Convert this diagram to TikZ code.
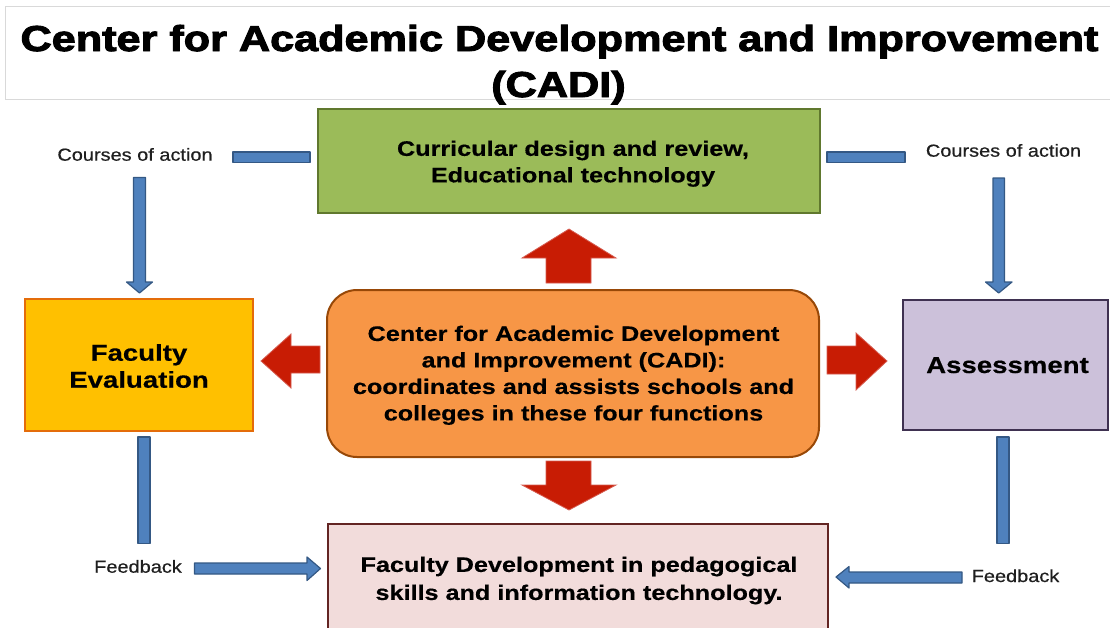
\documentclass[tikz,border=0pt]{standalone}
\usepackage{fontspec}
\setmainfont{Liberation Sans}
\newfontfamily\heavyfont{Liberation Sans}[BoldFeatures={FakeBold=2.5}]
\newfontfamily\boxfont{Liberation Sans}[BoldFeatures={FakeBold=0.4}]
\newfontfamily\labelfont{Liberation Sans}[FakeBold=0.5]
\usepackage{graphicx}
\newcommand{\sxw}[1]{\scalebox{1.2}[1]{#1}}
\newcommand{\sxl}[1]{\scalebox{1.14}[1]{#1}}
\definecolor{grfill}{RGB}{155,187,89}
\definecolor{grline}{RGB}{96,120,46}
\definecolor{yefill}{RGB}{255,192,0}
\definecolor{yeline}{RGB}{228,108,10}
\definecolor{pufill}{RGB}{204,193,218}
\definecolor{puline}{RGB}{63,49,81}
\definecolor{orfill}{RGB}{247,150,70}
\definecolor{orline}{RGB}{152,72,7}
\definecolor{pkfill}{RGB}{242,220,219}
\definecolor{pkline}{RGB}{99,37,35}
\definecolor{redfill}{RGB}{200,28,4}
\definecolor{redline}{RGB}{214,92,80}
\definecolor{bluefill}{RGB}{79,129,189}
\definecolor{blueline}{RGB}{52,88,132}
\definecolor{framegray}{RGB}{217,217,217}
\begin{document}
\begin{tikzpicture}[x=1pt,y=-1pt,
  boxshape/.style={rectangle, inner sep=0pt, line width=2pt},
  maintext/.style={align=center, inner sep=0pt, font=\fontsize{21}{26.5}\selectfont\boxfont\bfseries},
  bigtext/.style={align=center, inner sep=0pt, font=\fontsize{23}{27}\selectfont\boxfont\bfseries},
  labeltext/.style={inner sep=0pt, anchor=base, font=\fontsize{17.5}{20}\selectfont\labelfont, text=black!88},
  titletext/.style={inner sep=0pt, anchor=base, font=\fontsize{36}{40}\selectfont\heavyfont\bfseries},
  redarrow/.style={fill=redfill, draw=redline, line width=0.8pt, line join=miter},
  bluearrow/.style={fill=bluefill, draw=blueline, line width=1.2pt, line join=round}]
\useasboundingbox (0,0) rectangle (1110,627);
\fill[white] (0,0) rectangle (1110,627);

% title frame and title
\draw[framegray, line width=1pt] (1120,6) -- (5,6) -- (5,99) -- (1120,99);
\node[titletext] (t1) at (559.5,51) {\sxw{Center for Academic Development and Improvement}};
\node[titletext] (t2) at (558.5,97) {\sxw{(CADI)}};

% boxes
\node[boxshape, fill=grfill, draw=grline, line width=2.5pt, minimum width=502pt, minimum height=104pt] (cur) at (569,161) {};
\node[maintext] (curt) at (573,163.7) {\sxw{Curricular design and review,}\\\sxw{Educational technology}};

\node[boxshape, fill=yefill, draw=yeline, minimum width=228pt, minimum height=132pt] (fev) at (139,365) {};
\node[bigtext] (fevt) at (139,366) {\sxw{Faculty}\\\sxw{Evaluation}};

\node[boxshape, fill=pufill, draw=puline, line width=2.5pt, minimum width=205pt, minimum height=130pt] (ass) at (1005.5,365) {};
\node[inner sep=0pt, anchor=base, font=\fontsize{23}{27}\selectfont\boxfont\bfseries] (asst) at (1007.5,373) {\sxw{Assessment}};

\node[boxshape, fill=orfill, draw=orline, rounded corners=30pt, minimum width=492pt, minimum height=167pt] (cadi) at (573,373.5) {};
\node[maintext] (cadit) at (573.5,375.3) {\sxw{Center for Academic Development}\\\sxw{and Improvement (CADI):}\\\sxw{coordinates and assists schools and}\\\sxw{colleges in these four functions}};

\node[boxshape, fill=pkfill, draw=pkline, minimum width=500pt, minimum height=108pt] (fdev) at (578,578) {};
\node[maintext, font=\fontsize{21}{28}\selectfont\boxfont\bfseries] (fdevt) at (579,580.5) {\sxw{Faculty Development in pedagogical}\\\sxw{skills and information technology.}};

% red block arrows
\draw[redarrow] (546,283) -- (546,258) -- (522,258) -- (569,229) -- (616,258) -- (591,258) -- (591,283) -- cycle;
\draw[redarrow] (546,461) -- (591,461) -- (591,485) -- (616,485) -- (569,510) -- (522,485) -- (546,485) -- cycle;
\draw[redarrow] (320,346) -- (291,346) -- (291,334) -- (261,361) -- (291,388) -- (291,373) -- (320,373) -- cycle;
\draw[redarrow] (827,346) -- (856,346) -- (856,333) -- (887,361) -- (856,390) -- (856,374) -- (827,374) -- cycle;

% labels
\node[labeltext] (cal) at (135,160.7) {\sxl{Courses of action}};
\node[labeltext] (car) at (1003.5,156.7) {\sxl{Courses of action}};
\node[labeltext] (fbl) at (138,572.7) {\sxl{Feedback}};
\node[labeltext] (fbr) at (1015.5,582) {\sxl{Feedback}};

% blue block arrows
\draw[bluearrow] (233,152) rectangle (310,162.5);
\draw[bluearrow] (133.5,177.5) -- (145.5,177.5) -- (145.5,282) -- (152.5,282) -- (139.5,293) -- (126.5,282) -- (133.5,282) -- cycle;
\draw[bluearrow] (827,152) rectangle (905,162.5);
\draw[bluearrow] (993,178) -- (1004.5,178) -- (1004.5,282) -- (1012,282) -- (998.7,293) -- (985.5,282) -- (993,282) -- cycle;
\draw[bluearrow] (138,437) rectangle (150,543.5);
\draw[bluearrow] (997,437) rectangle (1009,543.5);
\draw[bluearrow] (194.5,563) -- (307,563) -- (307,557) -- (320.5,568.5) -- (307,580.5) -- (307,574) -- (194.5,574) -- cycle;
\draw[bluearrow] (962,572) -- (849,572) -- (849,566.5) -- (836,577) -- (849,588) -- (849,583) -- (962,583) -- cycle;
\end{tikzpicture}
\end{document}
